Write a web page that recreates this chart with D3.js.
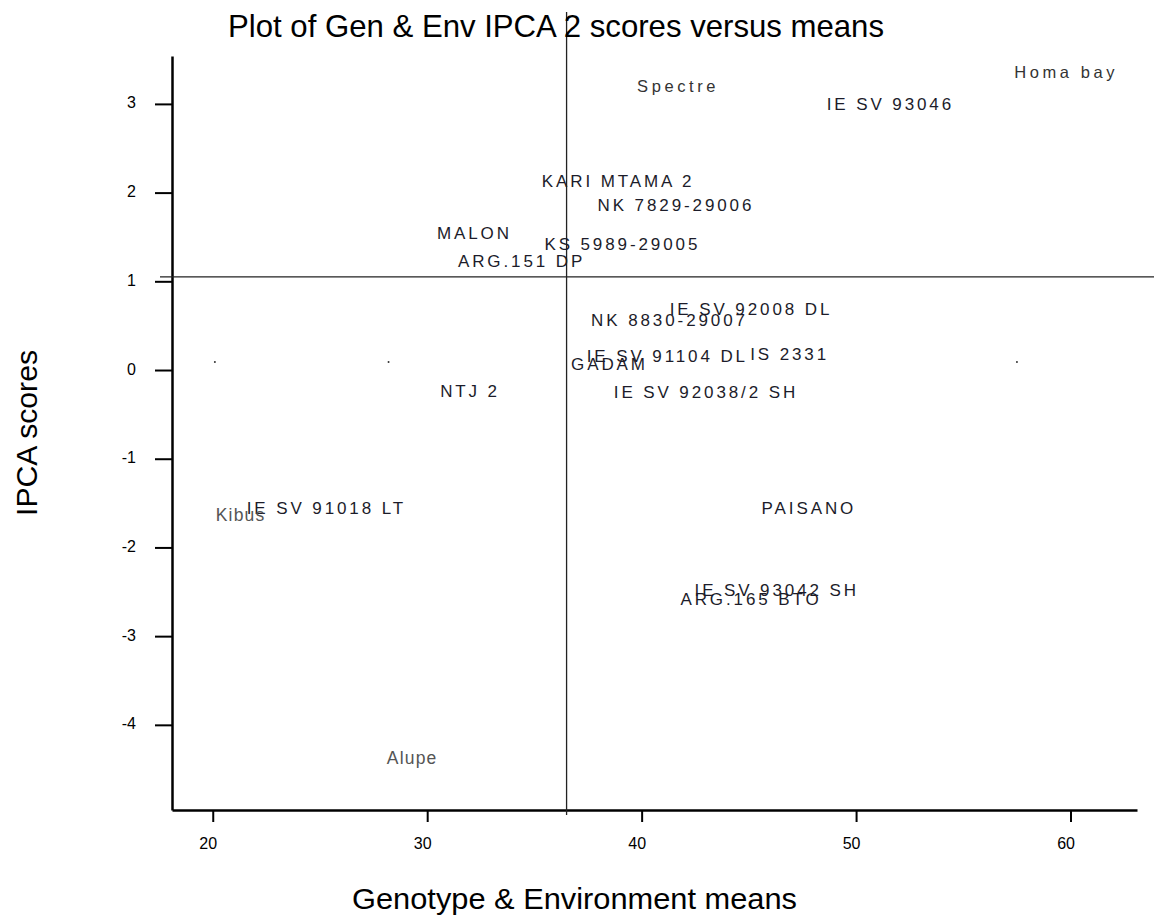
<!DOCTYPE html>
<html>
<head>
<meta charset="utf-8">
<script src="https://cdn.jsdelivr.net/npm/d3@7"></script>
<style>
  body { margin: 0; background: #fff; }
  svg { font-family: Arial, "Liberation Sans", sans-serif; }
</style>
</head>
<body>
<div id="chart"></div>
<script>
// genotype labels (mean, IPCA 2 score)
const genoNames = ["IE SV 93046", "KARI MTAMA 2", "NK 7829-29006", "MALON", "KS 5989-29005",
  "ARG.151 DP", "IE SV 92008 DL", "NK 8830-29007", "IE SV 91104 DL", "IS 2331", "GADAM",
  "IE SV 92038/2 SH", "NTJ 2", "IE SV 91018 LT", "PAISANO", "IE SV 93042 SH", "ARG.165 BTO"];
const genoMeans = [51.6, 38.9, 41.6, 32.2, 39.1, 34.4, 45.1, 41.3, 41.2, 46.9, 38.5, 43.0, 32.0, 25.3, 47.8, 46.3, 45.1];
const genoScores = [2.99, 2.12, 1.85, 1.54, 1.41, 1.22, 0.68, 0.56, 0.15, 0.18, 0.06, -0.25, -0.24, -1.56, -1.56, -2.48, -2.59];

// environment labels
const envNames = ["Spectre", "Homa bay", "Kibus", "Alupe"];
const envMeans = [41.7, 59.8, 21.3, 29.3];
const envScores = [3.20, 3.36, -1.63, -4.37];

// small markers near zero
const dotMeans = [20.1, 28.2, 57.5];
const dotScores = [0.09, 0.09, 0.09];

const grandMean = 36.5;
const refScore = 1.05;
const xTicks = [20, 30, 40, 50, 60];
const yTicks = [3, 2, 1, 0, -1, -2, -3, -4];

const width = 1154, height = 917;

const svg = d3.select("#chart").append("svg")
  .attr("width", width).attr("height", height);

const xScale = d3.scaleLinear().domain([18.1, 63.1]).range([172, 1137]);
const yScale = d3.scaleLinear().domain([-4.96, 3.54]).range([810, 56]);

// axes
const bottomAxis = d3.axisBottom(xScale).tickValues(xTicks).tickSize(12).tickPadding(16)
  .tickSizeOuter(0).tickFormat(d => String(d));
const leftAxis = d3.axisLeft(yScale).tickValues(yTicks).tickSize(17).tickPadding(19)
  .tickSizeOuter(0).tickFormat(d => String(d));

const gx = svg.append("g").attr("transform", `translate(0, ${yScale.range()[0]})`).call(bottomAxis);
const gy = svg.append("g").attr("transform", `translate(${xScale.range()[0]}, 0)`).call(leftAxis);

[gx, gy].forEach(g => {
  g.select(".domain").attr("stroke", "#000").attr("stroke-width", 2.5);
  g.selectAll(".tick line").attr("stroke", "#000").attr("stroke-width", 2);
  g.selectAll(".tick text").attr("font-size", 16).attr("fill", "#000");
});
gx.selectAll(".tick text").attr("dx", -5);
gy.selectAll(".tick text").attr("dy", "0.25em");

// reference lines
svg.append("line")
  .attr("x1", xScale(grandMean)).attr("x2", xScale(grandMean))
  .attr("y1", 12).attr("y2", 815)
  .attr("stroke", "#222").attr("stroke-width", 1.3);
svg.append("line")
  .attr("x1", 160).attr("x2", width)
  .attr("y1", yScale(refScore)).attr("y2", yScale(refScore))
  .attr("stroke", "#222").attr("stroke-width", 1.3);

// dots
svg.selectAll("circle.dot").data(dotMeans).join("circle")
  .attr("class", "dot")
  .attr("cx", d => xScale(d))
  .attr("cy", (d, i) => yScale(dotScores[i]))
  .attr("r", 1)
  .attr("fill", "#333");

// genotype labels
svg.selectAll("text.geno").data(genoNames).join("text")
  .attr("class", "geno")
  .attr("x", (d, i) => xScale(genoMeans[i]))
  .attr("y", (d, i) => yScale(genoScores[i]))
  .attr("text-anchor", "middle")
  .attr("dominant-baseline", "central")
  .attr("font-size", 17)
  .attr("letter-spacing", 2.9)
  .attr("fill", "#1c1c2a")
  .text(d => d);

// environment labels
svg.selectAll("text.env").data(envNames).join("text")
  .attr("class", "env")
  .attr("x", (d, i) => xScale(envMeans[i]))
  .attr("y", (d, i) => yScale(envScores[i]))
  .attr("text-anchor", "middle")
  .attr("dominant-baseline", "central")
  .attr("font-size", (d, i) => i < 2 ? 16.5 : 17.5)
  .attr("letter-spacing", (d, i) => i < 2 ? 3.6 : 1.2)
  .attr("fill", (d, i) => i < 2 ? "#333" : "#555")
  .text(d => d);

// title and axis labels
svg.append("text")
  .attr("x", 228).attr("y", 37)
  .attr("font-size", 32)
  .attr("textLength", 656).attr("lengthAdjust", "spacingAndGlyphs")
  .attr("fill", "#000")
  .text("Plot of Gen & Env IPCA 2 scores versus means");

svg.append("text")
  .attr("x", 352).attr("y", 909)
  .attr("font-size", 30)
  .attr("textLength", 445).attr("lengthAdjust", "spacingAndGlyphs")
  .attr("fill", "#000")
  .text("Genotype & Environment means");

svg.append("text")
  .attr("transform", "translate(37, 516) rotate(-90)")
  .attr("font-size", 30)
  .attr("textLength", 166).attr("lengthAdjust", "spacingAndGlyphs")
  .attr("fill", "#000")
  .text("IPCA scores");
</script>
</body>
</html>
